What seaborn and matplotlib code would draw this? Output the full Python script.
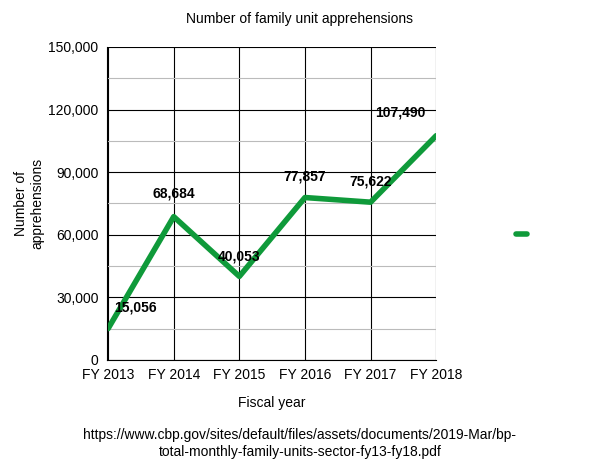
import matplotlib
matplotlib.use("Agg")
import matplotlib.pyplot as plt
import seaborn as sns
import pandas as pd
from matplotlib.lines import Line2D

years = ["FY 2013", "FY 2014", "FY 2015", "FY 2016", "FY 2017", "FY 2018"]
apprehensions = [15056, 68684, 40053, 77857, 75622, 107490]

df = pd.DataFrame({"year": years, "count": apprehensions})

sns.set_style("white")
plt.rcParams["font.family"] = ["Liberation Sans", "DejaVu Sans"]
plt.rcParams["text.color"] = "black"
plt.rcParams["axes.labelcolor"] = "black"
plt.rcParams["xtick.color"] = "black"
plt.rcParams["ytick.color"] = "black"

fig = plt.figure(figsize=(6, 4.63), dpi=100)
ax = fig.add_axes([0.178, 0.2225, 0.549, 0.676])

sns.lineplot(data=df, x="year", y="count", ax=ax, color="#0f9a3a", linewidth=4, sort=False)

ax.set_ylim(0, 150000)
ax.set_xlim(-0.02, len(years) - 1)
ax.set_yticks(range(0, 150001, 30000))
ax.set_yticks(range(15000, 150000, 30000), minor=True)
ax.yaxis.set_major_formatter(matplotlib.ticker.FuncFormatter(lambda v, p: f"{int(v):,}"))
ax.grid(True, which="major", color="black", linewidth=0.8)
ax.grid(True, which="minor", axis="y", color="#bbbbbb", linewidth=0.8)
ax.set_axisbelow(True)
for s in ax.spines.values():
    s.set_visible(False)
ax.spines["left"].set_visible(True)
ax.spines["bottom"].set_visible(True)
ax.spines["left"].set_color("black")
ax.spines["bottom"].set_color("black")
ax.tick_params(labelsize=10, length=0, pad=6)

offsets = [(20, 10), (0, 12), (0, 9), (0, 10), (0, 10), (-26, 12)]
for i, (v, off) in enumerate(zip(apprehensions, offsets)):
    ax.annotate(f"{v:,}", (i, v), xytext=off, textcoords="offset points",
                ha="center", va="bottom", fontsize=10, fontweight="bold", color="black")

ax.set_xlabel("Fiscal year", fontsize=10, labelpad=10)
ax.set_ylabel("Number of\napprehensions", fontsize=10, labelpad=3)
fig.text(0.5, 0.96, "Number of family unit apprehensions", ha="center", va="center", fontsize=10)
fig.text(0.5, 0.042, "https://www.cbp.gov/sites/default/files/assets/documents/2019-Mar/bp-\ntotal-monthly-family-units-sector-fy13-fy18.pdf",
         ha="center", va="center", fontsize=10, linespacing=1.3)

fig.legend(handles=[Line2D([0], [0], color="#0f9a3a", linewidth=4)], labels=[""],
           loc="center", bbox_to_anchor=(0.878, 0.492), frameon=False, handlelength=0.8)

fig.savefig("out.png", dpi=100)
